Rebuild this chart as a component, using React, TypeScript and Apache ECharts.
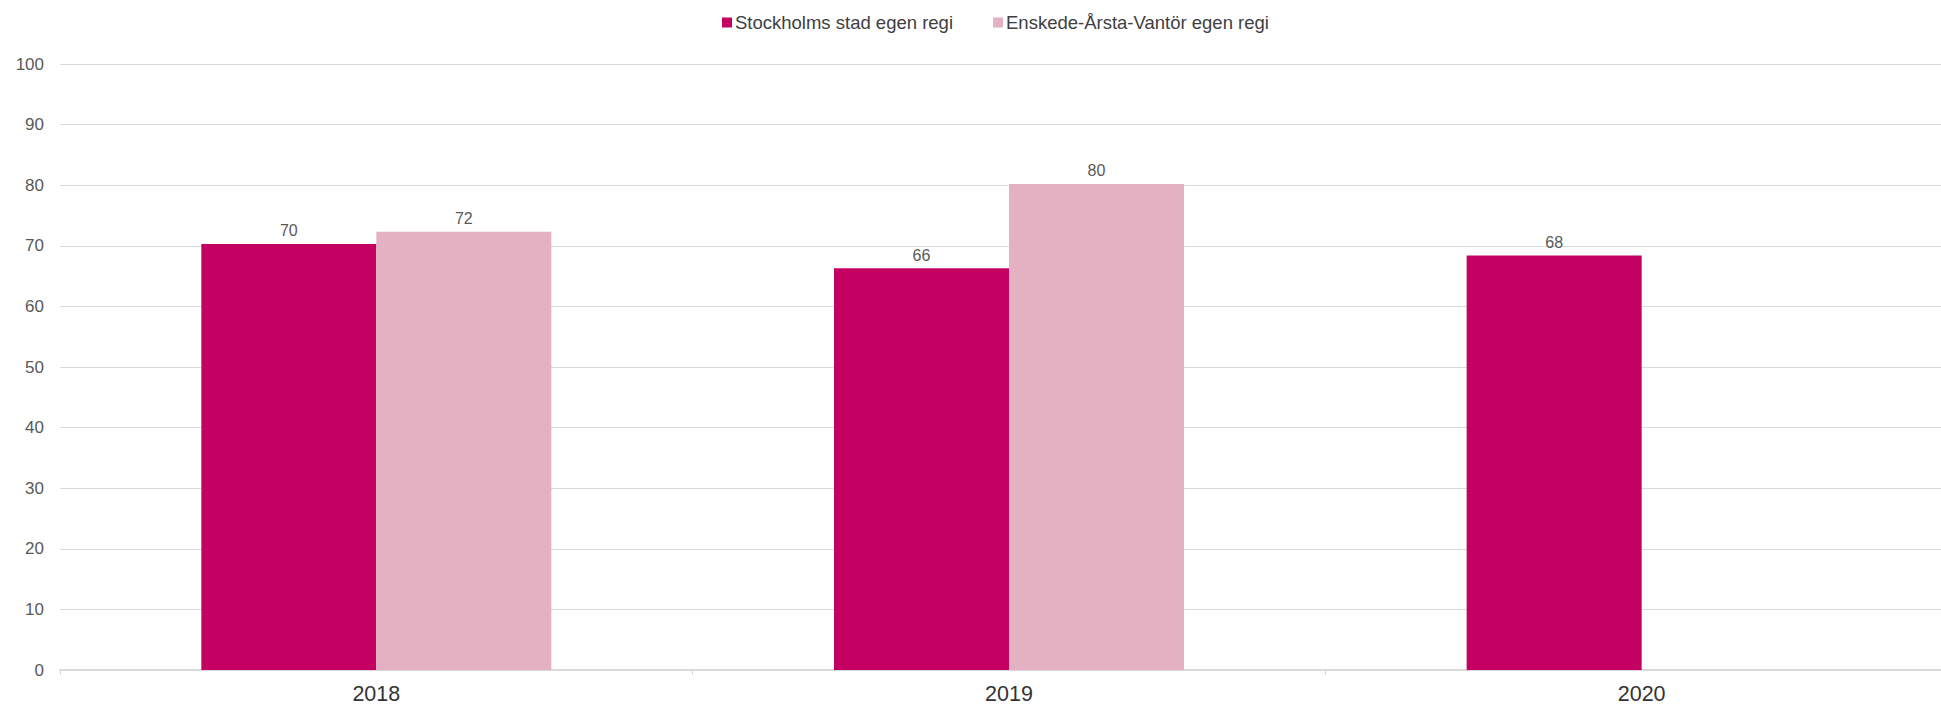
import React, { useEffect, useRef } from "react";
import * as echarts from "echarts";

const categories = ["2018", "2019", "2020"];
const seriesNames = ["Stockholms stad egen regi", "Enskede-Årsta-Vantör egen regi"];
const stockholmValues: (number | null)[] = [70.3, 66.3, 68.4];
const enskedeValues: (number | null)[] = [72.3, 80.2, null];
const yTicks = [0, 10, 20, 30, 40, 50, 60, 70, 80, 90, 100];

const FONT = "'Liberation Sans', Arial, sans-serif";

export default function App() {
  const ref = useRef<HTMLDivElement>(null);
  useEffect(() => {
    if (!ref.current) return;
    const chart = echarts.init(ref.current, null, { renderer: "svg" });
    const label = {
      show: true,
      position: "top",
      distance: 5,
      color: "#595959",
      fontSize: 16,
      fontFamily: FONT,
      formatter: (p: any) => String(Math.round(p.value)),
    };
    chart.setOption({
      animation: false,
      textStyle: { fontFamily: FONT },
      legend: {
        top: 8,
        left: 717,
        itemWidth: 10,
        itemHeight: 10,
        itemGap: 40,
        icon: "rect",
        textStyle: { fontSize: 18.5, color: "#404040", fontFamily: FONT, padding: [0, 0, 0, -2] },
        data: seriesNames,
      },
      grid: { left: 60, right: 0, top: 64, bottom: 36, containLabel: false },
      xAxis: {
        type: "category",
        data: categories,
        axisLine: { lineStyle: { color: "#d9d9d9", width: 2 } },
        axisTick: { show: true, length: 5, lineStyle: { color: "#d9d9d9" } },
        axisLabel: { fontSize: 21.5, color: "#333333", margin: 13, fontFamily: FONT },
      },
      yAxis: {
        type: "value",
        min: yTicks[0],
        max: yTicks[yTicks.length - 1],
        interval: 10,
        axisLine: { show: false },
        axisTick: { show: false },
        axisLabel: { fontSize: 17, color: "#595959", margin: 16, fontFamily: FONT },
        splitLine: { lineStyle: { color: "#d9d9d9", width: 1 } },
      },
      series: [
        {
          name: seriesNames[0],
          type: "bar",
          data: stockholmValues,
          barWidth: 175,
          barGap: "0%",
          itemStyle: { color: "#c40062" },
          label,
        },
        {
          name: seriesNames[1],
          type: "bar",
          data: enskedeValues,
          barWidth: 175,
          barGap: "0%",
          itemStyle: { color: "#e3b1c1" },
          label,
        },
      ],
    });
    return () => chart.dispose();
  }, []);
  return (
    <div
      style={{ position: "fixed", left: 0, top: 0, width: 1941, height: 706, overflow: "hidden", background: "#fff" }}
    >
      <div ref={ref} style={{ width: 1958, height: 706 }} />
    </div>
  );
}
